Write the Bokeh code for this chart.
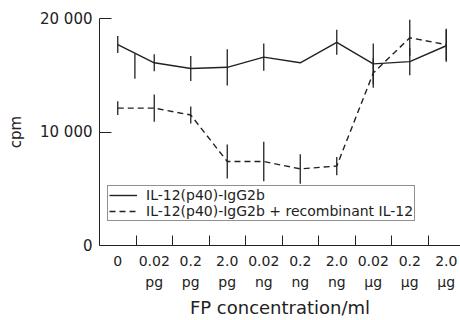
from bokeh.plotting import figure
from bokeh.models import (Range1d, FixedTicker, LinearAxis, Legend, LegendItem)
from bokeh.embed import file_html
from bokeh.resources import INLINE

# ---- data ----
conc = ["0", "0.02", "0.2", "2.0", "0.02", "0.2", "2.0", "0.02", "0.2", "2.0"]
units = ["", "pg", "pg", "pg", "ng", "ng", "ng", "\u00b5g", "\u00b5g", "\u00b5g"]
xpos = list(range(len(conc)))

solid = [17700, 16100, 15600, 15700, 16600, 16100, 17900, 16000, 16200, 17600]
solid_err = [750, 750, 1100, 1600, 1200, 0, 1100, 1800, 1200, 1400]

dashed = [12100, 12100, 11500, 7400, 7400, 6750, 7000, 15200, 18300, 17700]
dashed_err = [600, 1200, 750, 1500, 1750, 1300, 800, 1300, 1600, 1400]

# one stray error bar in the original, between the first two points
stray_x = [0.47]
stray_lo = [14700]
stray_hi = [16900]

label_solid = "IL-12(p40)-IgG2b"
label_dashed = "IL-12(p40)-IgG2b + recombinant IL-12"

y_ticks = [0, 10000, 20000]
y_labels = {0: "0", 10000: "10 000", 20000: "20 000"}

FONT = "DejaVu Sans"
INK = "#222222"

p = figure(width=460, height=320, output_backend="svg", toolbar_location=None,
           x_range=Range1d(-0.5, 9.39), y_range=Range1d(0, 20000),
           x_axis_location=None, y_axis_location=None,
           min_border_left=99, min_border_top=18, min_border_right=0,
           min_border_bottom=74)
p.outline_line_color = None
p.xgrid.visible = False
p.ygrid.visible = False
p.background_fill_color = "white"
p.border_fill_color = "white"

# y axis
yax = LinearAxis(ticker=FixedTicker(ticks=y_ticks),
                 major_label_overrides=y_labels,
                 axis_label="cpm")
yax.axis_line_color = INK
yax.major_tick_line_color = INK
yax.major_tick_in = 12
yax.major_tick_out = 0
yax.minor_tick_line_color = None
yax.major_label_standoff = 7
yax.major_label_text_font = FONT
yax.major_label_text_font_size = "15px"
yax.major_label_text_color = INK
yax.axis_label_text_font = FONT
yax.axis_label_text_font_size = "15px"
yax.axis_label_text_font_style = "normal"
yax.axis_label_text_color = INK
yax.axis_label_standoff = 12
p.add_layout(yax, "left")

# x axis, row 1 (tick marks between categories, numbers at centres)
xa = LinearAxis(ticker=FixedTicker(ticks=xpos,
                                   minor_ticks=[i + 0.5 for i in xpos[:-1]]),
                major_label_overrides={i: s for i, s in zip(xpos, conc)})
xa.axis_line_color = INK
xa.major_tick_line_color = None
xa.major_tick_in = 0
xa.major_tick_out = 0
xa.minor_tick_line_color = INK
xa.minor_tick_in = 10
xa.minor_tick_out = 0
xa.major_label_standoff = 10
xa.major_label_text_font = FONT
xa.major_label_text_font_size = "14px"
xa.major_label_text_color = INK
p.add_layout(xa, "below")

# x axis, row 2 (units) + title
xb = LinearAxis(ticker=FixedTicker(ticks=xpos),
                major_label_overrides={i: s for i, s in zip(xpos, units)},
                axis_label="FP concentration/ml")
xb.axis_line_color = None
xb.major_tick_line_color = None
xb.minor_tick_line_color = None
xb.major_tick_in = 0
xb.major_tick_out = 0
xb.major_label_standoff = 5
xb.major_label_text_font = FONT
xb.major_label_text_font_size = "14px"
xb.major_label_text_color = INK
xb.axis_label_text_font = FONT
xb.axis_label_text_font_size = "18px"
xb.axis_label_text_font_style = "normal"
xb.axis_label_text_color = INK
xb.axis_label_standoff = 4
p.add_layout(xb, "below")

# error bars
p.segment(x0=xpos, x1=xpos,
          y0=[v - e for v, e in zip(solid, solid_err)],
          y1=[v + e for v, e in zip(solid, solid_err)],
          line_color=INK, line_width=1.3)
p.segment(x0=xpos, x1=xpos,
          y0=[v - e for v, e in zip(dashed, dashed_err)],
          y1=[v + e for v, e in zip(dashed, dashed_err)],
          line_color=INK, line_width=1.3)
p.segment(x0=stray_x, x1=stray_x, y0=stray_lo, y1=stray_hi,
          line_color=INK, line_width=1.3)

# lines
r1 = p.line(xpos, solid, line_color=INK, line_width=1.4)
r2 = p.line(xpos, dashed, line_color=INK, line_width=1.4, line_dash="6 4")

legend = Legend(items=[LegendItem(label=label_solid, renderers=[r1]),
                       LegendItem(label=label_dashed, renderers=[r2])],
                location=(8, 24))
legend.label_text_font = FONT
legend.label_text_font_size = "14px"
legend.label_text_color = INK
legend.glyph_width = 28
legend.glyph_height = 14
legend.label_height = 14
legend.label_standoff = 9
legend.spacing = 0
legend.padding = 1
legend.margin = 0
legend.border_line_color = INK
legend.border_line_width = 1
legend.background_fill_color = "white"
legend.background_fill_alpha = 1
p.add_layout(legend, "center")

open("out.html", "w").write(file_html(p, INLINE))
